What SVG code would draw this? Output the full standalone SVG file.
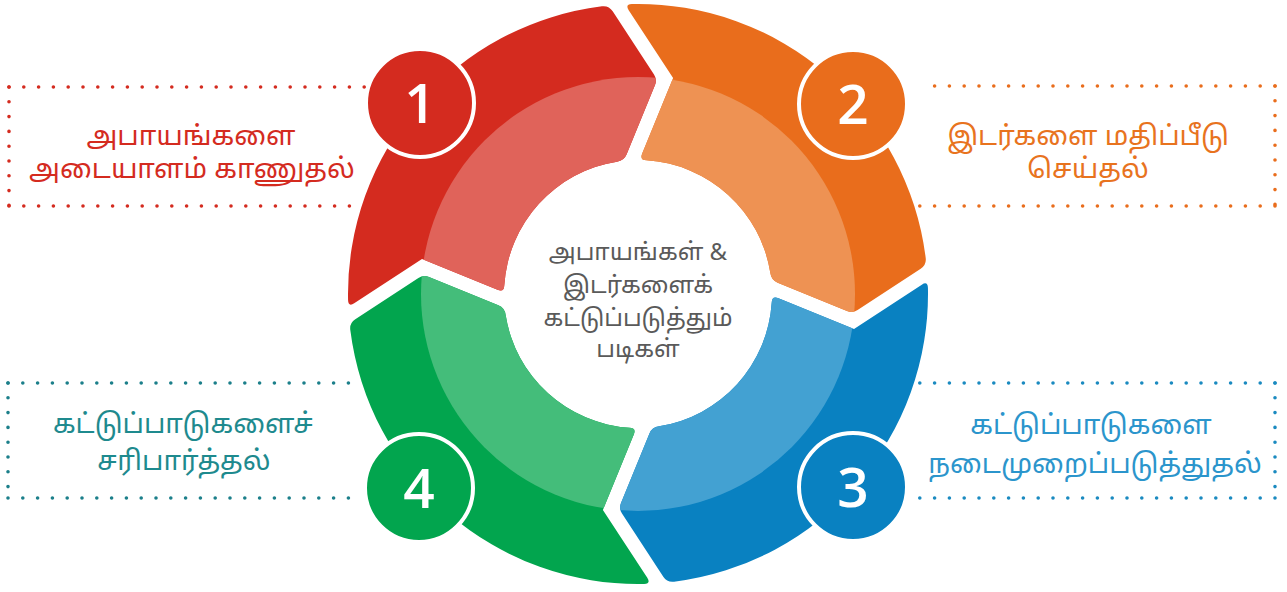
<svg xmlns="http://www.w3.org/2000/svg" width="1287" height="592" viewBox="0 0 1287 592">
<style>
.dot{fill:none;stroke-width:3.6;stroke-linecap:round;stroke-dasharray:0 14.8}
.tx{font-family:'Noto Sans Tamil','Latha','Lohit Tamil','Noto Sans',sans-serif;text-anchor:middle}
.side{font-size:27.5px}
.ctr{font-size:24px;fill:#5a5a5a}
.num{font-family:'Open Sans','Noto Sans',sans-serif;font-size:55px;font-weight:600;fill:#ffffff;text-anchor:middle}
.badge{stroke:#ffffff;stroke-width:4}
</style>
<defs>
<path id="seg" d="M354.2,303.3 Q348.3,307.1 348.06,300.1 A290,290 0 0 1 601.95,6.3 Q608.9,5.4 612.7,11.3 L654.0,74.4 Q657.3,79.4 655.0,85.0 L626.65,154.3 Q624.0,160.8 617.0,161.65 A134,134 0 0 0 504.27,285.5 Q504.0,292.5 497.5,289.8 L422.0,258.9 Z"/>
<clipPath id="inner"><circle cx="638" cy="294" r="217"/></clipPath>
</defs>
<g id="connectors">
<g class="dot" stroke="#D42B1F"><path d="M9,87 H368"/><path d="M9,87 V206"/><path d="M9,206 H356"/></g>
<g class="dot" stroke="#E96D1C"><path d="M1275,86 H920"/><path d="M1275,86 V206"/><path d="M1275,206 H918"/></g>
<g class="dot" stroke="#1B7F8A"><path d="M8,383 H360"/><path d="M8,383 V498"/><path d="M8,498 H358"/></g>
<g class="dot" stroke="#1A8AC0"><path d="M1275,383 H918"/><path d="M1275,383 V498"/><path d="M1275,498 H912"/></g>
</g>
<g id="step1">
<use href="#seg" fill="#D42B1F"/>
<use href="#seg" fill="#E0635A" clip-path="url(#inner)"/>
</g>
<g id="step2">
<g transform="rotate(90 638 294)"><use href="#seg" fill="#E96D1C"/><use href="#seg" fill="#EE9253" clip-path="url(#inner)"/></g>
</g>
<g id="step3">
<g transform="rotate(180 638 294)"><use href="#seg" fill="#0981C1"/><use href="#seg" fill="#43A1D2" clip-path="url(#inner)"/></g>
</g>
<g id="step4">
<g transform="rotate(270 638 294)"><use href="#seg" fill="#02A54E"/><use href="#seg" fill="#44BD7A" clip-path="url(#inner)"/></g>
</g>
<g id="badge1"><circle class="badge" cx="420" cy="103" r="54" fill="#D42B1F"/><text class="num" x="420" y="123">1</text></g>
<g id="badge2"><circle class="badge" cx="853" cy="104" r="54" fill="#E96D1C"/><text class="num" x="853" y="124">2</text></g>
<g id="badge3"><circle class="badge" cx="853" cy="487" r="54" fill="#0981C1"/><text class="num" x="853" y="507">3</text></g>
<g id="badge4"><circle class="badge" cx="419" cy="488" r="54" fill="#02A54E"/><text class="num" x="419" y="508">4</text></g>
<g id="label1" class="tx side" fill="#D42B1F"><text x="191" y="145">அபாயங்களை</text><text x="192" y="178">அடையாளம் காணுதல்</text></g>
<g id="label2" class="tx side" fill="#E8731E"><text x="1088" y="145">இடர்களை மதிப்பீடு</text><text x="1088" y="178">செய்தல்</text></g>
<g id="label3" class="tx side" fill="#2B95CC"><text x="1091" y="434">கட்டுப்பாடுகளை</text><text x="1095" y="473">நடைமுறைப்படுத்துதல்</text></g>
<g id="label4" class="tx side" fill="#1E8A8E"><text x="183" y="433">கட்டுப்பாடுகளைச்</text><text x="184" y="470">சரிபார்த்தல்</text></g>
<g id="center" class="tx ctr"><text x="638" y="260">அபாயங்கள் &amp;</text><text x="638" y="293">இடர்களைக்</text><text x="638" y="326">கட்டுப்படுத்தும்</text><text x="638" y="357">படிகள்</text></g>
</svg>
